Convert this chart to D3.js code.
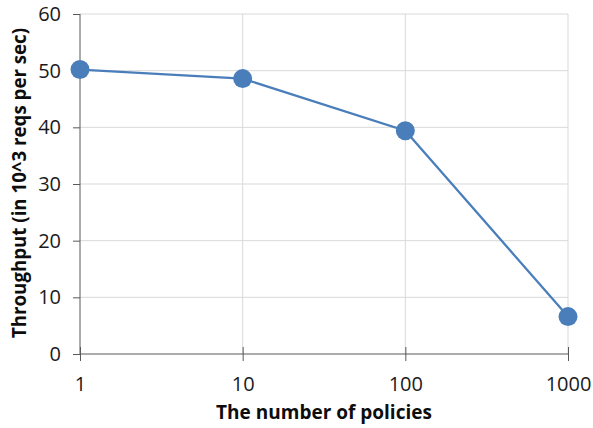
<!DOCTYPE html>
<html>
<head>
<meta charset="utf-8">
<script src="https://cdn.jsdelivr.net/npm/d3@7"></script>
<style>
  body { margin: 0; background: #fff; }
  svg { display: block; font-family: "Open Sans", sans-serif; }
</style>
</head>
<body>
<div id="chart"></div>
<script>
// data
var policies = [1, 10, 100, 1000];
var throughput = [50.2, 48.6, 39.4, 6.6];
var yTicks = [0, 10, 20, 30, 40, 50, 60];

var totalWidth = 593, totalHeight = 428;
var margin = { top: 14, right: 25, bottom: 74, left: 80 };
var width = totalWidth - margin.left - margin.right;
var height = totalHeight - margin.top - margin.bottom;

var svg = d3.select('#chart').append('svg')
    .attr('width', totalWidth)
    .attr('height', totalHeight);

var g = svg.append('g')
    .attr('transform', 'translate(' + margin.left + ',' + margin.top + ')');

var xScale = d3.scaleLog().domain([1, 1000]).range([0, width]);
var yScale = d3.scaleLinear().domain([0, 60]).range([height, 0]);

// gridlines
g.append('g').selectAll('line.h')
    .data(yTicks.slice(1))
    .enter().append('line')
    .attr('x1', 0).attr('x2', width)
    .attr('y1', d => yScale(d)).attr('y2', d => yScale(d))
    .attr('stroke', '#d9d9d9').attr('stroke-width', 1);
g.append('g').selectAll('line.v')
    .data(policies.slice(1))
    .enter().append('line')
    .attr('x1', d => xScale(d)).attr('x2', d => xScale(d))
    .attr('y1', 0).attr('y2', height)
    .attr('stroke', '#d9d9d9').attr('stroke-width', 1);

// axes
var yAxis = d3.axisLeft(yScale).tickValues(yTicks).tickSize(7).tickPadding(12).tickFormat(d3.format('d'));
var yAxisGroup = g.append('g').call(yAxis)
    .attr('font-family', '"Open Sans", sans-serif').attr('font-size', 20);
yAxisGroup.selectAll('path, line').attr('stroke', '#595959');
yAxisGroup.selectAll('.domain').attr('d', 'M0,' + height + 'V0');
yAxisGroup.selectAll('text').attr('fill', '#1a1a1a').style('font-size', '20px');

var xAxis = d3.axisBottom(xScale).tickValues(policies).tickSize(7).tickPadding(16).tickFormat(d3.format('d'));
var xAxisGroup = g.append('g').attr('transform', 'translate(0,' + height + ')').call(xAxis)
    .attr('font-family', '"Open Sans", sans-serif').attr('font-size', 20);
xAxisGroup.selectAll('path, line').attr('stroke', '#595959');
xAxisGroup.selectAll('.domain').attr('d', 'M0,0H' + width);
xAxisGroup.selectAll('.tick line').attr('y1', -7);
xAxisGroup.selectAll('text').attr('fill', '#1a1a1a').style('font-size', '20px');

// line + markers
var pts = policies.map((p, i) => ({ x: p, y: throughput[i] }));
var line = d3.line().x(d => xScale(d.x)).y(d => yScale(d.y));
g.append('path').datum(pts)
    .attr('d', line)
    .attr('fill', 'none')
    .attr('stroke', '#4a7ebb')
    .attr('stroke-width', 2.25);
g.selectAll('circle').data(pts).enter().append('circle')
    .attr('cx', d => xScale(d.x))
    .attr('cy', d => yScale(d.y))
    .attr('r', 9.5)
    .attr('fill', '#4a7ebb');

// axis titles
svg.append('text')
    .attr('x', 324)
    .attr('y', 419)
    .attr('text-anchor', 'middle')
    .attr('font-size', 19).attr('font-weight', 'bold').attr('fill', '#0d0d0d')
    .text('The number of policies');
svg.append('text')
    .attr('transform', 'translate(26,183) rotate(-90)')
    .attr('text-anchor', 'middle')
    .attr('font-size', 18.7).attr('font-weight', 'bold').attr('fill', '#0d0d0d')
    .text('Throughput (in 10^3 reqs per sec)');
</script>
</body>
</html>
